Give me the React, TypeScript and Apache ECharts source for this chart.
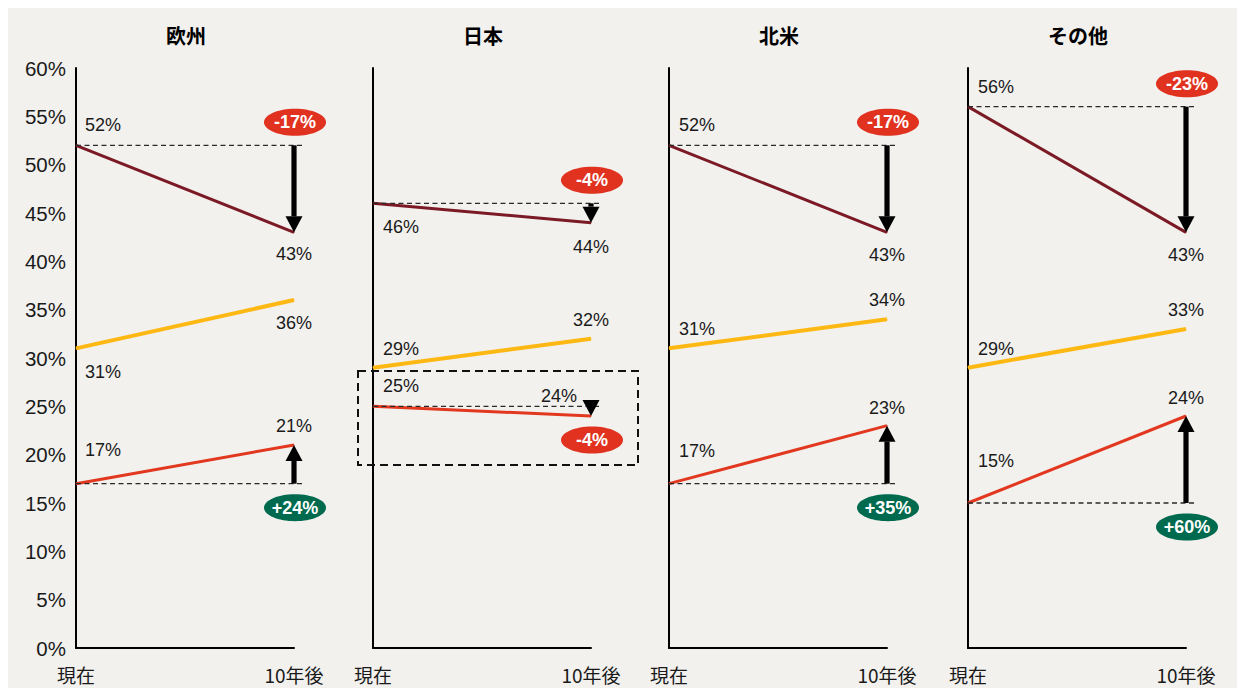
import React, { useEffect, useRef } from 'react';
import * as echarts from 'echarts';

// ---- data ----
const regions = ['欧州', '日本', '北米', 'その他'];
const periods = ['現在', '10年後'];
const maroonNow = [52, 46, 52, 56];
const maroonLater = [43, 44, 43, 43];
const yellowNow = [31, 29, 31, 29];
const yellowLater = [36, 32, 34, 33];
const redNow = [17, 25, 17, 15];
const redLater = [21, 24, 23, 24];
const yMin = 0;
const yMax = 60;
const yStep = 5;

// ---- layout / style ----
const W = 1237;
const H = 680;
const GRID_LEFTS = [68, 365, 661, 960];
const GRID_W = 218;
const GRID_TOP = 60;
const GRID_BOTTOM = 40;
const BG = '#f2f1ee';
const MAROON = '#7b1a24';
const YELLOW = '#fdb813';
const RED = '#e2381f';
const BADGE_RED = '#e0321f';
const BADGE_GREEN = '#006a4e';
const TXT = '#1a1a1a';
const LATIN = '"Liberation Sans", Arial, sans-serif';
const CJK = '"Noto Sans CJK JP", "Noto Sans", sans-serif';

// label offsets [dx, dy] per panel, per point
const maroonOffsets = [
  [[27, -20], [0, 22]],
  [[28, 24], [0, 24]],
  [[28, -20], [0, 23]],
  [[28, -20], [0, 23]],
];
const yellowOffsets = [
  [[27, 24], [0, 23]],
  [[28, -19], [0, -19]],
  [[28, -19], [0, -19]],
  [[28, -19], [0, -19]],
];
const redOffsets = [
  [[27, -34], [0, -19]],
  [[28, -20], [-32, -20]],
  [[28, -33], [0, -18]],
  [[28, -42], [0, -18]],
];

function lineSeries(i: number, now: number[], later: number[], offs: number[][][], color: string, width: number) {
  return {
    type: 'line',
    xAxisIndex: i,
    yAxisIndex: i,
    symbol: 'circle',
    symbolSize: 1,
    showSymbol: true,
    itemStyle: { color },
    lineStyle: { color, width },
    z: 3,
    data: [now[i], later[i]].map((v, k) => ({
      value: v,
      label: {
        show: true,
        position: 'inside',
        offset: offs[i][k],
        formatter: (p: any) => `${p.value}%`,
        fontSize: 18,
        fontFamily: LATIN,
        color: TXT,
      },
    })),
  };
}

function changeSeries(i: number) {
  return {
    type: 'custom',
    xAxisIndex: i,
    yAxisIndex: i,
    clip: false,
    z: 4,
    encode: { x: 0, y: [1, 2] },
    data: [
      [1, maroonNow[i], maroonLater[i], 0],
      [1, redNow[i], redLater[i], 1],
    ],
    renderItem: (params: any, api: any) => {
      const s = api.value(1);
      const e = api.value(2);
      const kind = api.value(3);
      const p0 = api.coord([0, s]);
      const pS = api.coord([1, s]);
      const pE = api.coord([1, e]);
      const x = pE[0];
      const y0 = pS[1];
      const tip = pE[1];
      const dir = tip > y0 ? 1 : -1;
      const headLen = 16;
      const headHalf = 8.5;
      const base = tip - dir * headLen;
      const children: any[] = [];
      children.push({
        type: 'line',
        shape: { x1: p0[0], y1: y0, x2: pS[0] + 9, y2: y0 },
        style: { stroke: '#2a2a2a', lineWidth: 1.3, lineDash: [5, 3.5] },
      });
      if ((base - y0) * dir > 0) {
        children.push({
          type: 'rect',
          shape: { x: x - 2.6, y: Math.min(y0, base), width: 5.2, height: Math.abs(base - y0) },
          style: { fill: '#000' },
        });
      }
      children.push({
        type: 'polygon',
        shape: { points: [[x - headHalf, base], [x + headHalf, base], [x, tip]] },
        style: { fill: '#000' },
      });
      const pct = Math.round((e / s - 1) * 100);
      const txt = `${pct > 0 ? '+' : ''}${pct}%`;
      const cy = kind === 0 ? Math.min(pS[1], pE[1]) - 23 : Math.max(pS[1], pE[1]) + 24;
      const cx = x + 1;
      children.push({
        type: 'ellipse',
        shape: { cx, cy, rx: 31, ry: 13.5 },
        style: { fill: pct > 0 ? BADGE_GREEN : BADGE_RED },
      });
      children.push({
        type: 'text',
        x: cx,
        y: cy,
        style: {
          text: txt,
          fill: '#fff',
          font: `bold 18px ${LATIN}`,
          align: 'center',
          verticalAlign: 'middle',
        },
      });
      return { type: 'group', children };
    },
  };
}

export default function App() {
  const ref = useRef<HTMLDivElement>(null);
  useEffect(() => {
    if (!ref.current) return;
    const chart = echarts.init(ref.current, undefined, { renderer: 'svg' });
    const grids = GRID_LEFTS.map((left) => ({
      left,
      width: GRID_W,
      top: GRID_TOP,
      bottom: GRID_BOTTOM,
      containLabel: false,
    }));
    const xAxes = GRID_LEFTS.map((_, i) => ({
      type: 'category',
      gridIndex: i,
      data: periods,
      boundaryGap: false,
      axisLine: { show: true, lineStyle: { color: '#000', width: 2 } },
      axisTick: { show: false },
      axisLabel: { fontSize: 19, fontFamily: CJK, color: TXT, margin: 17 },
      splitLine: { show: false },
    }));
    const yAxes = GRID_LEFTS.map((_, i) => ({
      type: 'value',
      gridIndex: i,
      min: yMin,
      max: yMax,
      interval: yStep,
      axisLine: { show: true, onZero: false, lineStyle: { color: '#000', width: 2 } },
      axisTick: { show: false },
      splitLine: { show: false },
      axisLabel: {
        show: i === 0,
        formatter: '{value}%',
        fontSize: 20.5,
        fontFamily: LATIN,
        color: TXT,
        margin: 10,
      },
    }));
    const series: any[] = [];
    regions.forEach((_, i) => {
      series.push(lineSeries(i, maroonNow, maroonLater, maroonOffsets, MAROON, 3));
      series.push(lineSeries(i, yellowNow, yellowLater, yellowOffsets, YELLOW, 4));
      series.push(lineSeries(i, redNow, redLater, redOffsets, RED, 3));
      series.push(changeSeries(i));
    });
    const graphic: any[] = regions.map((name, i) => ({
      type: 'text',
      x: GRID_LEFTS[i] + GRID_W / 2 + 1,
      y: 27.5,
      style: {
        text: name,
        fill: '#000',
        font: `bold 20px ${CJK}`,
        align: 'center',
        verticalAlign: 'middle',
      },
    }));
    graphic.push({
      type: 'rect',
      shape: { x: 350, y: 363, width: 280, height: 94 },
      style: { fill: 'none', stroke: '#111', lineWidth: 2, lineDash: [8, 5] },
      z: 10,
    });
    chart.setOption({
      animation: false,
      backgroundColor: BG,
      grid: grids,
      xAxis: xAxes,
      yAxis: yAxes,
      series,
      graphic,
    });
    return () => chart.dispose();
  }, []);
  return <div ref={ref} style={{ width: W, height: H, background: BG }} />;
}
